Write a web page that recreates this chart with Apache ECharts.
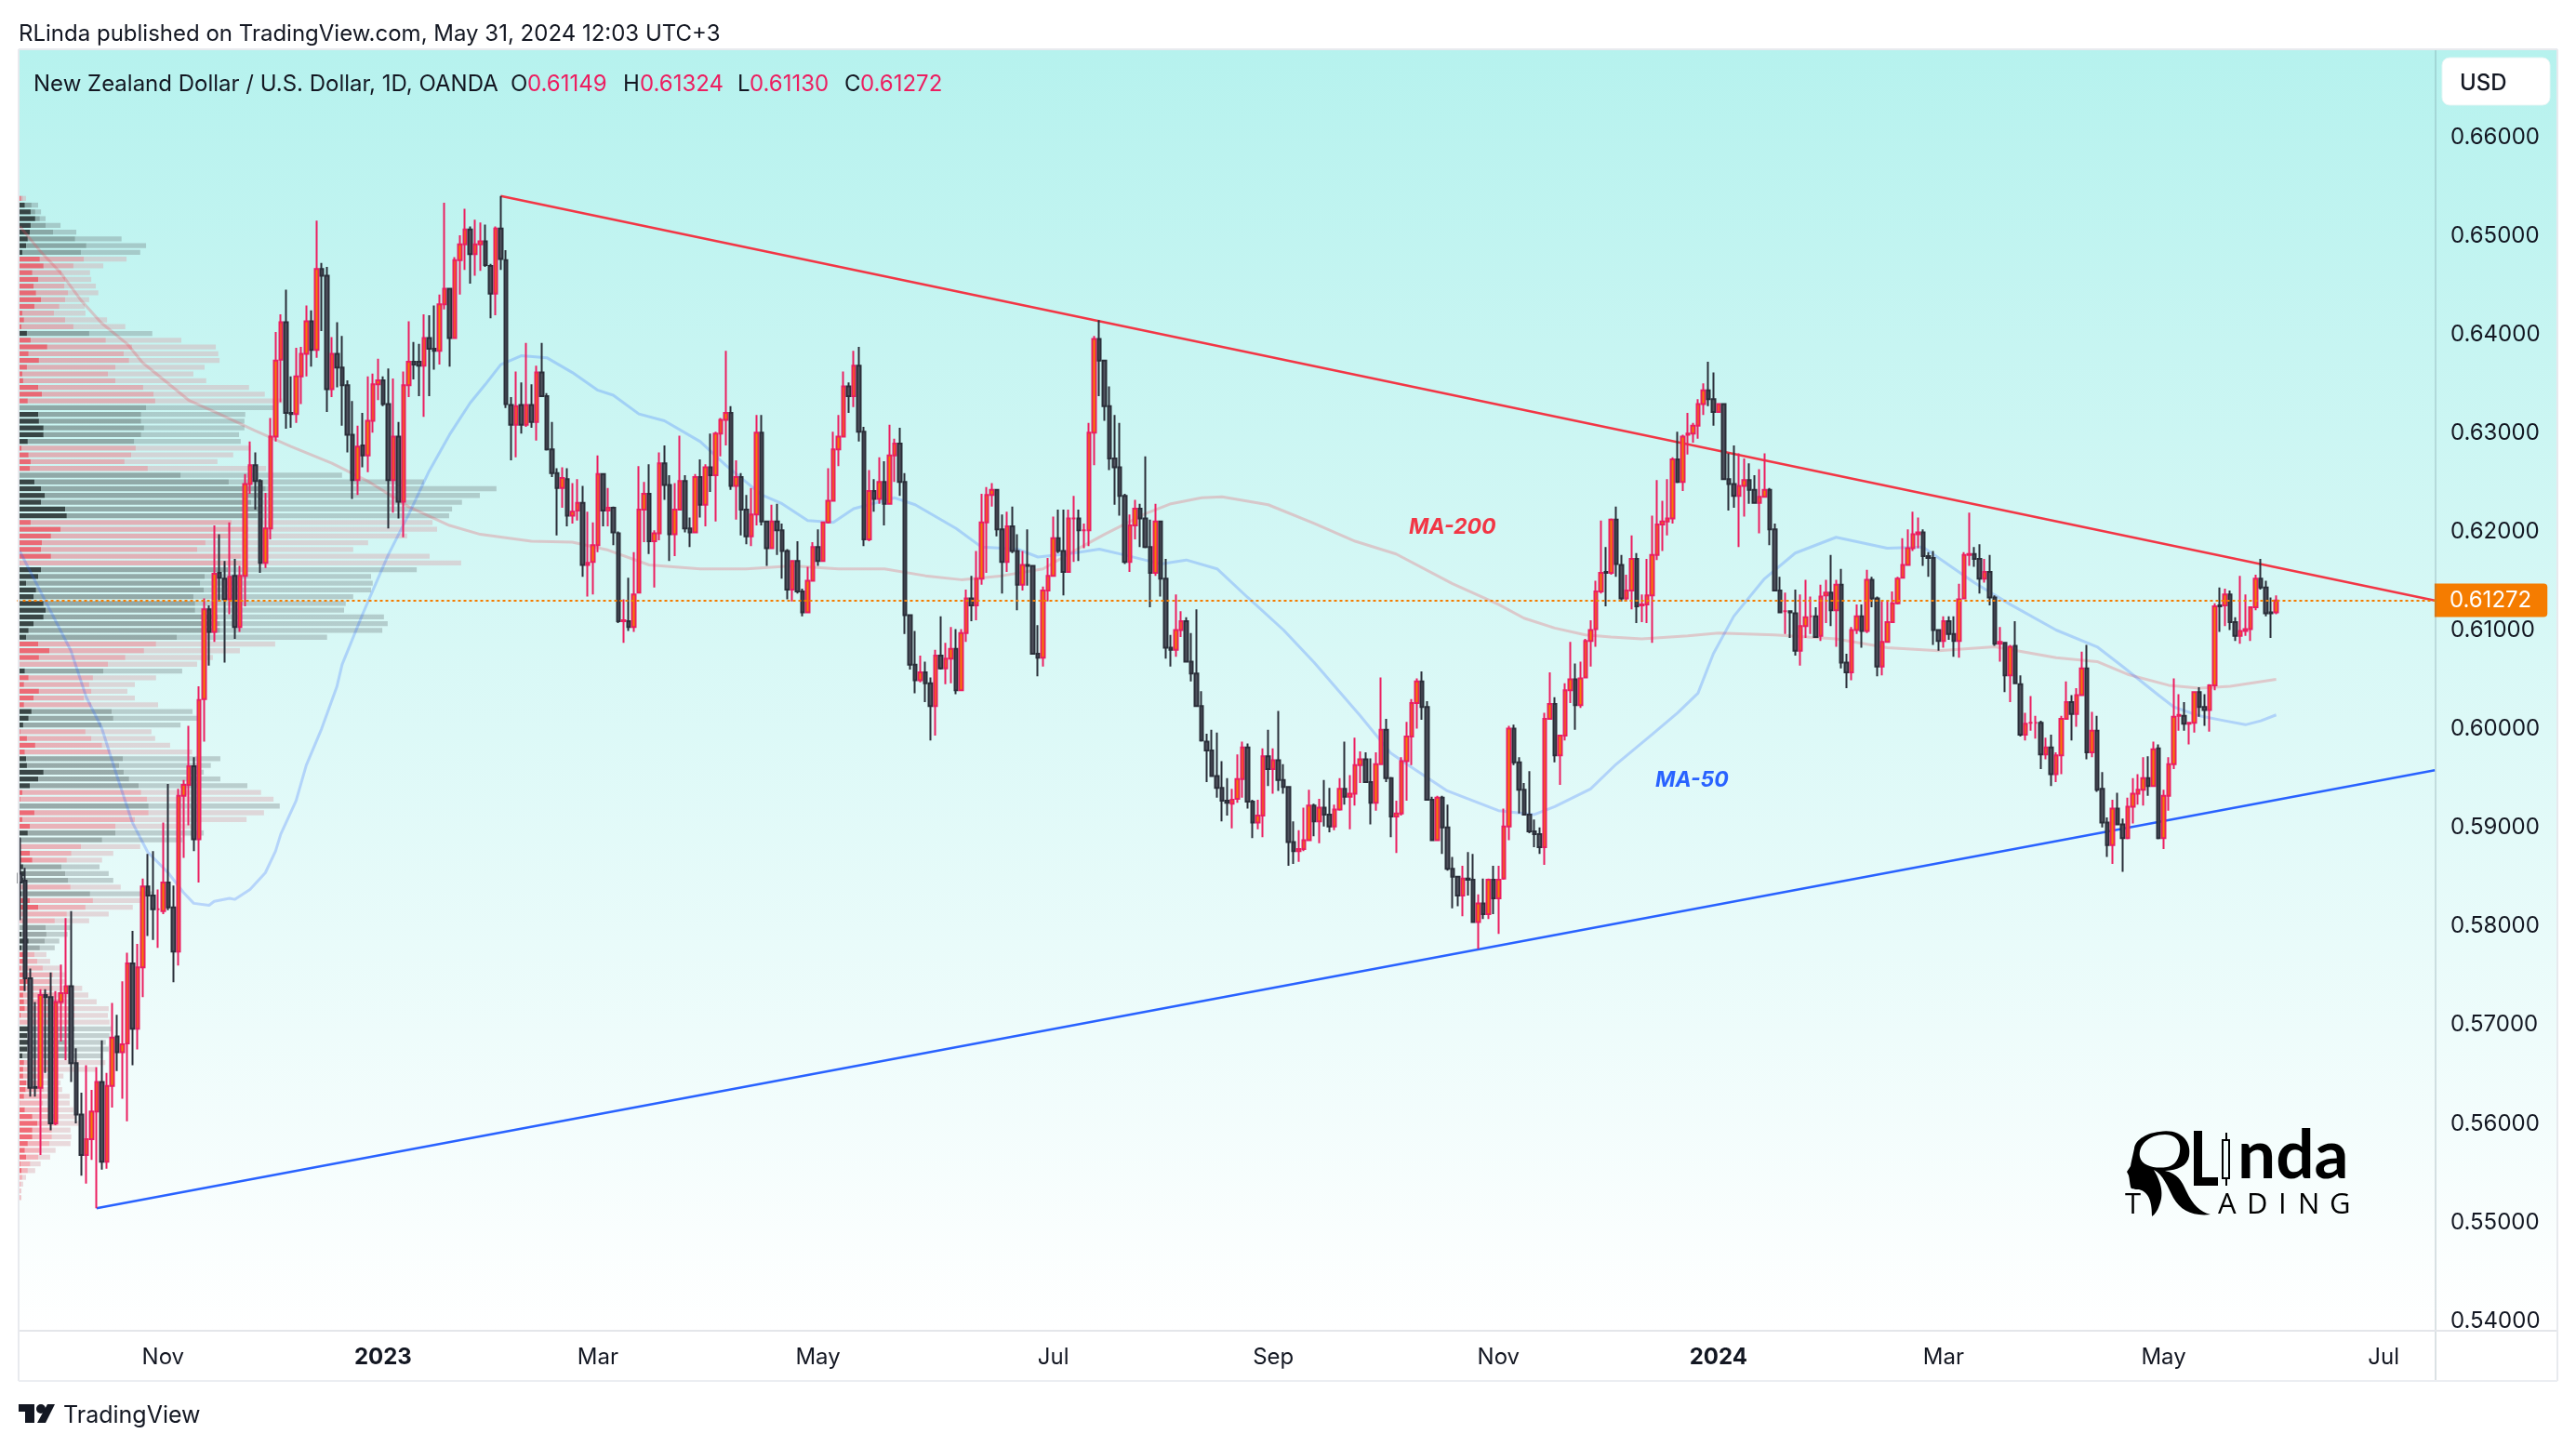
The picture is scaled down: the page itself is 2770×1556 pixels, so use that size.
<!DOCTYPE html>
<html>
<head>
<meta charset="utf-8">
<title>NZD/USD</title>
<style>
	html, body { margin: 0; padding: 0; background: #fff; }
	#chart { width: 2770px; height: 1556px; }
</style>
<script src="https://cdn.jsdelivr.net/npm/echarts@6/dist/echarts.min.js"></script>
</head>
<body>
<div id="chart"></div>
<script type="text/javascript">
// daily candles, values in 1/10000 of a dollar
var opens = [
	5850,5843,5744,5634,5633,5727,5725,5597,5720,5729,5736,5658,5606,5565,5581,5609,5639,5558,5635,5685,
	5669,5678,5759,5693,5755,5837,5828,5814,5812,5841,5816,5771,5929,5940,5959,5885,6027,6118,6095,6155,
	6149,6128,6152,6100,6152,6245,6264,6248,6165,6200,6293,6371,6409,6317,6316,6354,6377,6410,6381,6463,
	6456,6341,6377,6363,6345,6295,6249,6284,6274,6309,6346,6350,6326,6249,6293,6227,6345,6369,6369,6365,
	6393,6382,6380,6427,6443,6393,6472,6488,6503,6478,6488,6491,6466,6438,6504,6472,6325,6305,6325,6305,
	6325,6308,6358,6334,6280,6256,6241,6250,6213,6218,6226,6163,6166,6183,6255,6218,6221,6195,6106,6106,
	6100,6135,6219,6235,6187,6195,6266,6244,6194,6219,6248,6200,6196,6252,6224,6262,6254,6296,6310,6317,
	6243,6252,6219,6192,6214,6297,6207,6180,6207,6198,6177,6138,6167,6136,6115,6147,6181,6167,6206,6228,
	6280,6293,6344,6334,6365,6298,6189,6238,6230,6247,6225,6274,6286,6247,6112,6062,6046,6054,6043,6020,
	6071,6058,6068,6078,6036,6094,6129,6122,6149,6206,6234,6239,6199,6166,6202,6177,6143,6163,6162,6073,
	6069,6137,6152,6190,6177,6156,6210,6210,6198,6198,6297,
	6392,6370,6324,6271,6262,6233,6166,6203,6220,6210,6181,6155,6207,6149,6079,6077,6097,6106,6065,6053,
	6020,5984,5975,5949,5937,5924,5921,5926,5946,5978,5923,5902,5909,5969,5956,5965,5945,5938,5882,5873,
	5875,5884,5919,5903,5917,5910,5898,5915,5936,5928,5931,5960,5966,5943,5922,5961,5996,5947,5908,5911,
	5964,5989,6023,6045,6019,5925,5884,5927,5897,5855,5847,5828,5845,5844,5801,5820,5809,5844,5825,5845,
	5898,5997,5963,5935,5910,5893,5890,5877,6007,6022,5970,5990,6036,6047,6021,6049,6086,6098,6136,6156,
	6155,6209,6163,6129,6137,6169,6122,6123,6132,6173,6204,6207,6210,6270,6247,6295,6296,6304,6326,6340,
	6331,6318,6326,6250,6245,6233,6243,6249,6239,6226,6232,6239,6199,6137,6116,6116,6114,6076,6101,6111,
	6111,6091,6132,6135,6117,6143,6064,6054,6097,6111,6096,6148,6129,6060,6085,6105,6124,6150,6163,6180,
	6194,6196,6172,6170,6097,6086,6106,6093,6086,6129,6173,6174,6169,6149,6156,6130,6083,6084,6051,6081,
	6042,5991,6003,6003,6003,5971,5978,5951,5970,6007,6024,6012,6031,6058,5973,5995,5936,5902,5879,5916,
	5900,5886,5918,5931,5935,5947,5939,
	5977,5886,5929,5961,6010,6010,6002,6003,6034,6019,6016,6041,6122,6122,6133,6105,6091,6096,6098,6120,
	6149,6140,6115,6115
];
var closes = [
	5841,5744,5633,5633,5727,5725,5597,5720,5729,5736,5658,5606,5565,5581,5609,5639,5558,5635,5684,5669,
	5677,5759,5693,5755,5837,5828,5814,5814,5841,5816,5771,5929,5940,5959,5885,6026,6118,6095,6154,6150,
	6128,6151,6100,6152,6245,6264,6248,6165,6200,6293,6370,6409,6317,6316,6354,6377,6410,6381,6463,6456,
	6341,6377,6363,6345,6295,6249,6283,6274,6309,6346,6350,6326,6249,6293,6227,6345,6369,6366,6365,6393,
	6382,6380,6427,6443,6393,6472,6488,6503,6478,6488,6491,6467,6438,6504,6473,6326,6305,6324,6305,6325,
	6308,6358,6334,6280,6256,6241,6251,6213,6217,6226,6163,6165,6183,6255,6218,6221,6196,6106,6107,6100,
	6133,6219,6235,6187,6195,6266,6244,6194,6219,6248,6200,6196,6252,6224,6262,6254,6296,6310,6317,6243,
	6252,6219,6192,6214,6297,6207,6180,6207,6198,6177,6138,6167,6136,6115,6147,6181,6167,6206,6228,6280,
	6293,6344,6334,6365,6298,6189,6238,6230,6247,6225,6274,6286,6247,6112,6062,6046,6054,6043,6020,6071,
	6058,6068,6078,6036,6094,6129,6122,6149,6206,6234,6239,6199,6166,6202,6177,6143,6163,6162,6073,6069,
	6137,6152,6190,6177,6156,6210,6210,6198,6198,6297,6392,
	6370,6324,6271,6262,6233,6166,6203,6220,6210,6181,6155,6207,6149,6079,6077,6097,6106,6065,6053,6020,
	5985,5975,5949,5937,5924,5922,5925,5946,5978,5923,5902,5909,5969,5956,5965,5945,5938,5882,5873,5875,
	5884,5919,5903,5917,5910,5898,5915,5936,5928,5931,5960,5966,5943,5922,5961,5996,5947,5908,5911,5964,
	5989,6023,6045,6019,5925,5884,5927,5897,5855,5847,5828,5845,5844,5801,5820,5809,5844,5825,5844,5898,
	5997,5963,5935,5910,5893,5890,5877,6007,6022,5970,5990,6036,6047,6021,6048,6086,6097,6136,6155,6155,
	6209,6164,6129,6137,6169,6121,6123,6132,6173,6204,6207,6210,6270,6247,6293,6296,6304,6326,6340,6331,
	6318,6326,6250,6245,6233,6243,6249,6239,6226,6232,6239,6199,6137,6115,6116,6115,6076,6101,6110,6111,
	6090,6131,6135,6117,6143,6064,6054,6097,6111,6096,6148,6129,6060,6085,6105,6124,6149,6163,6180,6194,
	6196,6172,6170,6097,6086,6106,6093,6086,6128,6173,6174,6169,6149,6156,6130,6083,6085,6051,6080,6043,
	5991,6002,6003,6003,5971,5978,5951,5970,6007,6024,6012,6031,6058,5973,5995,5935,5902,5879,5916,5900,
	5886,5918,5931,5935,5947,5939,5976,
	5886,5929,5961,6009,6011,6002,6003,6034,6019,6016,6041,6121,6121,6133,6105,6091,6096,6098,6120,6149,
	6140,6114,6114,6127
];
var highs = [
	5886,5856,5754,5720,5733,5733,5750,5731,5758,5805,5812,5673,5628,5656,5631,5654,5681,5648,5719,5707,
	5741,5770,5792,5779,5845,5870,5873,5834,5902,5941,5838,5936,5945,6000,5968,6040,6129,6122,6203,6194,
	6167,6206,6169,6162,6255,6288,6277,6250,6236,6312,6399,6417,6442,6354,6383,6384,6426,6421,6512,6469,
	6465,6394,6409,6395,6350,6329,6304,6317,6354,6357,6372,6354,6362,6352,6308,6359,6410,6389,6387,6417,
	6416,6426,6437,6530,6443,6475,6497,6524,6506,6513,6510,6508,6468,6506,6537,6482,6333,6359,6348,6388,
	6346,6365,6388,6337,6308,6261,6262,6261,6246,6250,6243,6217,6206,6274,6256,6241,6222,6197,6128,6150,
	6176,6263,6247,6265,6198,6277,6284,6254,6246,6294,6254,6211,6255,6270,6265,6296,6298,6312,6380,6324,
	6269,6256,6234,6241,6315,6315,6208,6224,6225,6205,6179,6167,6187,6139,6161,6186,6199,6207,6261,6298,
	6315,6359,6348,6380,6384,6303,6259,6250,6272,6268,6305,6291,6302,6256,6112,6096,6071,6065,6049,6077,
	6111,6084,6100,6098,6098,6138,6152,6177,6235,6242,6246,6240,6214,6217,6222,6194,6177,6199,6163,6102,
	6141,6170,6212,6219,6219,6219,6233,6219,6205,6307,6395,
	6411,6371,6344,6315,6307,6235,6214,6229,6225,6273,6209,6225,6208,6169,6092,6133,6116,6110,6094,6118,
	6035,5992,5996,5993,5964,5947,5936,5971,5984,5982,5925,5925,5977,5996,5977,6015,5961,5939,5903,5894,
	5917,5935,5921,5926,5945,5937,5920,5947,5984,5950,5988,5974,5973,5967,5973,6049,6007,5948,5924,5968,
	6004,6027,6048,6055,6025,5928,5929,5929,5920,5867,5848,5858,5872,5870,5829,5845,5845,5858,5858,5916,
	6000,6001,5968,5942,5954,5905,5897,6013,6054,6029,5990,6043,6085,6063,6065,6088,6107,6147,6208,6181,
	6210,6222,6173,6153,6193,6175,6133,6169,6213,6249,6228,6250,6272,6298,6295,6317,6307,6331,6347,6369,
	6358,6327,6327,6276,6284,6276,6271,6266,6254,6260,6276,6241,6205,6151,6135,6117,6138,6133,6148,6131,
	6120,6143,6148,6173,6148,6159,6073,6100,6123,6123,6158,6151,6131,6126,6127,6136,6151,6190,6199,6217,
	6211,6199,6176,6177,6098,6111,6111,6111,6144,6176,6216,6181,6184,6169,6173,6132,6100,6085,6082,6106,
	6051,6013,6030,6010,6005,5988,5991,5973,6010,6045,6031,6038,6075,6082,6014,6010,5953,5907,5925,5932,
	5906,5927,5947,5951,5968,5969,5984,
	5981,5935,5968,6048,6032,6024,6004,6035,6039,6032,6042,6124,6140,6139,6137,6110,6152,6133,6121,6153,
	6169,6147,6130,6132
];
var lows = [
	5803,5731,5624,5624,5565,5648,5590,5595,5680,5661,5639,5597,5544,5536,5560,5511,5550,5551,5613,5650,
	5622,5599,5656,5672,5725,5787,5783,5775,5809,5813,5740,5757,5866,5899,5873,5841,5984,6061,6085,6126,
	6064,6113,6088,6095,6121,6235,6219,6155,6160,6189,6288,6328,6301,6302,6307,6326,6354,6364,6373,6400,
	6318,6333,6343,6304,6277,6230,6234,6262,6257,6297,6330,6324,6200,6216,6210,6191,6333,6351,6334,6313,
	6334,6361,6366,6422,6364,6392,6437,6462,6448,6456,6461,6465,6413,6416,6462,6322,6269,6272,6296,6303,
	6302,6289,6334,6279,6252,6193,6221,6202,6205,6208,6151,6131,6133,6176,6202,6202,6183,6104,6084,6096,
	6095,6134,6186,6174,6140,6188,6229,6167,6172,6219,6196,6181,6195,6211,6202,6237,6207,6273,6284,6239,
	6209,6193,6184,6182,6203,6203,6162,6179,6173,6149,6128,6126,6134,6111,6114,6147,6162,6166,6205,6227,
	6263,6292,6317,6323,6288,6182,6187,6217,6225,6203,6224,6247,6233,6093,6057,6033,6044,6024,5985,5990,
	6057,6042,6043,6032,6035,6085,6106,6107,6143,6155,6222,6192,6134,6156,6175,6117,6137,6142,6072,6050,
	6060,6126,6151,6175,6132,6155,6166,6167,6180,6182,6264,
	6334,6309,6259,6224,6213,6164,6156,6189,6181,6180,6120,6152,6131,6068,6060,6070,6090,6064,6045,6020,
	5984,5943,5949,5927,5903,5909,5896,5922,5927,5916,5886,5895,5887,5939,5931,5934,5931,5858,5860,5862,
	5873,5883,5888,5881,5898,5892,5894,5914,5920,5895,5919,5942,5942,5900,5914,5960,5943,5887,5871,5909,
	5924,5960,5997,6006,5924,5884,5884,5870,5853,5815,5817,5807,5828,5801,5774,5804,5804,5809,5789,5844,
	5884,5960,5911,5909,5891,5877,5870,5859,6007,5963,5940,5985,6023,5996,6018,6048,6060,6080,6134,6121,
	6153,6151,6126,6126,6118,6104,6105,6104,6084,6168,6177,6193,6205,6246,6238,6275,6287,6291,6315,6324,
	6304,6317,6249,6218,6221,6181,6212,6225,6225,6195,6233,6183,6136,6114,6093,6089,6071,6061,6089,6093,
	6089,6086,6104,6101,6080,6058,6038,6046,6093,6079,6094,6120,6050,6051,6084,6104,6123,6149,6162,6177,
	6180,6162,6151,6082,6076,6079,6087,6070,6069,6128,6162,6161,6134,6145,6122,6081,6065,6034,6024,6042,
	5989,5985,5995,5987,5956,5966,5939,5943,5951,6006,5985,5999,6030,5966,5968,5933,5897,5867,5860,5899,
	5852,5885,5901,5920,5919,5929,5938,
	5885,5875,5914,5956,5995,5995,5981,5993,6009,6000,5994,6036,6095,6101,6097,6086,6083,6091,6086,6117,
	6138,6111,6089,6113
];

// moving averages at knots: bar index and price (1/10000)
var ma50Bars = [0,10,13,16,19,22,25,29,32,34,37,38,41,42,45,48,50,51,54,56,59,62,63,67,72,76,80,84,88,91,94,98,103,108,113,116,121,126,133,138,145,149,154,159,163,171,175,183,188,195,199,206,211,216,223,228,234,240,247,253,262,268,272,279,289,296,300,307,312,319,324,328,331,335,341,347,355,365,372,377,382,389,398,406,411,418,421,426,431,435,438,441];
var ma50Vals = [6177,6076,6029,5998,5949,5902,5872,5851,5831,5820,5818,5822,5825,5824,5834,5851,5873,5890,5924,5960,5997,6040,6062,6113,6173,6214,6258,6295,6327,6346,6366,6375,6373,6358,6340,6335,6316,6309,6288,6264,6234,6225,6208,6206,6220,6231,6224,6200,6181,6179,6171,6175,6179,6173,6164,6168,6159,6130,6097,6064,6010,5972,5958,5934,5914,5910,5918,5936,5961,5991,6013,6033,6073,6111,6149,6175,6191,6180,6181,6163,6145,6123,6097,6080,6060,6031,6019,6010,6005,6001,6005,6011];
var ma200Bars = [0,1,4,8,12,16,21,24,29,33,39,46,53,61,68,76,84,90,100,108,115,123,133,142,151,160,169,177,184,192,200,206,212,220,225,231,235,244,253,261,269,280,289,294,300,306,311,317,326,332,343,355,365,375,386,398,406,412,420,426,432,441];
var ma200Vals = [6506,6500,6481,6459,6431,6408,6387,6368,6347,6330,6316,6299,6283,6266,6248,6222,6203,6194,6187,6186,6178,6163,6159,6159,6162,6159,6159,6152,6148,6152,6159,6177,6194,6215,6225,6231,6232,6224,6205,6187,6174,6144,6123,6109,6099,6092,6090,6088,6091,6094,6092,6088,6079,6076,6080,6069,6065,6052,6041,6038,6040,6047];

// trend lines: [bar index, price]
var resistanceLine = [[94, 0.6537], [472, 0.6127]];
var supportLine = [[15, 0.5511], [472, 0.5955]];
var lastPrice = 0.61272;

// volume profile rows top to bottom, bar ends of the three layers
var vpAxisMin = 45;
var vpType = 'P GGGGGGGG PPPPPPPPPPP G PPPPPPPPPP GGGGGG PPPP GGGGGGG PPPPPPP GGGGGGGGGGG PP PP G PPPPP GGG PPPP GGGGG PP G PPP GG PPP GGG P G PPPP GGGG PPPPPPPPPPP GGGGG PPPPPPPPPPPPPPPPPPPPP G'.replace(/ /g, '').split('');
var vpInner = [
	50,60,74,85,74,72,67,63,54,96,105,78,92,81,87,99,83,54,58,52,
	65,74,114,69,94,65,54,56,92,101,67,46,92,94,105,105,67,52,69,74,
	72,46,83,99,108,99,157,161,74,146,123,101,99,123,48,99,92,63,87,81,
	105,110,105,81,69,63,92,119,
	94,46,60,69,58,94,81,58,76,69,56,49,65,85,60,63,65,105,92,72,
	54,49,47,83,54,72,67,50,48,72,78,56,60,56,50,52,72,92,50,46,
	46,52,69,52,56,56,50,65,78,60,56,58,60,50,46,70,66,70,66,54,
	58,56,56,63,62,58,48,60,78,90,78,78,67,60,63,49,52,48,47,46,46,45
];
var vpMid = [
	55,76,85,96,110,128,181,208,195,202,177,148,157,155,164,157,143,130,157,177,
	215,255,318,298,311,278,260,278,345,370,374,352,340,340,347,340,323,327,316,300,
	356,435,551,640,630,605,622,620,558,598,550,495,475,580,580,550,493,482,491,466,
	470,470,525,530,530,426,376,347,
	302,260,249,224,215,220,202,220,269,273,244,206,220,246,265,296,287,298,311,334,
	340,354,358,358,325,278,278,246,195,172,161,148,157,164,170,217,224,206,161,132,
	110,112,108,96,83,90,103,128,123,127,133,154,180,180,172,180,172,160,163,158,
	140,140,105,105,106,115,104,120,130,140,125,125,119,96,92,73,67,54,50,49,50,45
];
var vpOuter = [
	63,92,99,110,146,184,293,352,338,305,249,217,220,231,237,215,204,206,258,302,
	367,437,520,526,529,493,466,497,600,638,680,660,591,589,589,576,580,605,562,524,
	641,824,1021,1196,1156,1113,1089,1082,1042,1053,981,887,851,1035,1111,1004,894,898,894,851,
	833,829,925,934,921,788,663,578,
	513,475,439,376,325,307,325,381,464,478,435,365,374,410,463,531,508,491,531,596,
	629,659,674,636,594,463,491,440,338,273,246,240,262,273,291,370,338,320,262,215,
	170,163,143,132,112,121,148,160,160,198,213,233,262,260,264,268,264,255,262,248,
	254,230,153,146,150,168,168,177,183,190,170,172,170,134,121,98,85,63,56,52,52,46
];

// axes
var priceTicks = [0.54,0.55,0.56,0.57,0.58,0.59,0.60,0.61,0.62,0.63,0.64,0.65,0.66];
var timeTickBars = [28,71,113,156,202,245,289,332,376,419,462];
var timeTickLabels = ['Nov','2023','Mar','May','Jul','Sep','Nov','2024','Mar','May','Jul'];
var barSlots = 473;

var FONT = 'Inter';
var INK = '#131722';

// footer and logo outlines
echarts.graphic.registerShape('tvLogo', echarts.graphic.extendPath('M20 1510H37V1530H27V1518H20ZM51 1510H59L49 1530H40Z', {}));
echarts.graphic.registerShape('rlindaHead', echarts.graphic.extendPath('M2322 1217C2345 1213 2357 1228 2354 1243C2352 1254 2342 1258 2328 1259C2342 1262 2346 1270 2351 1281C2358 1296 2366 1303 2377 1306C2358 1308 2345 1302 2337 1288C2331 1276 2326 1263 2316 1258C2322 1268 2328 1282 2322 1296C2320 1302 2317 1306 2314 1308C2314 1295 2312 1282 2300 1279C2296 1279 2291 1279 2291 1276C2290 1272 2290 1268 2289 1264L2287 1260L2291 1254C2292 1248 2294 1240 2295 1235C2296 1225 2310 1218 2322 1217ZM2328 1220C2310 1220 2299 1232 2301 1244C2303 1254 2318 1257 2330 1255C2342 1253 2345 1240 2344 1232C2343 1224 2336 1220 2328 1220Z', {}));

function slots() {
	var a = [];
	for (var i = 0; i < barSlots; i++) a.push(String(i));
	return a;
}
function pairs(bars, vals) {
	return bars.map(function(b, i){ return [b, vals[i] / 10000]; });
}
function candles() {
	return opens.map(function(o, i){
		return [o / 10000, closes[i] / 10000, lows[i] / 10000, highs[i] / 10000];
	});
}
function vpColor(layer) {
	var colors = {
		P: ['rgba(240,70,85,0.8)', 'rgba(240,108,122,0.5)', 'rgba(217,162,170,0.4)'],
		G: ['rgba(40,50,50,0.9)', 'rgba(82,91,91,0.5)', 'rgba(108,117,120,0.33)']
	};
	return function(p){ return colors[vpType[p.dataIndex]][layer]; };
}
function vpSeries(layer, values) {
	return {
		type: 'bar', xAxisIndex: 1, yAxisIndex: 1, stack: 'vp', z: 1,
		barCategoryGap: '27%', silent: true,
		itemStyle: { color: vpColor(layer) },
		data: values
	};
}
function diff(a, b) {
	return a.map(function(v, i){ return v - b[i]; });
}
function txt(x, y, s, fill, size, extra) {
	var style = { x: x, y: y, text: s, fill: fill, font: (extra || '') + ' ' + size + 'px ' + FONT, textVerticalAlign: 'middle' };
	return { type: 'text', z: 20, silent: true, style: style };
}
function logoLetter(x, s) {
	return { type: 'text', z: 20, silent: true, style: { x: x, y: 1296, text: s, fill: '#000', font: '31px "Open Sans"', textVerticalAlign: 'middle' } };
}
function border(x1, y1, x2, y2, color, w) {
	return { type: 'line', z: 15, silent: true, shape: { x1: x1, y1: y1, x2: x2, y2: y2 }, style: { stroke: color, lineWidth: w } };
}

var graphics = [
	// pane background
	{ type: 'rect', z: -10, silent: true, shape: { x: 20, y: 53, width: 2730, height: 1378 },
		style: { fill: new echarts.graphic.LinearGradient(0, 0, 0, 1, [{ offset: 0, color: '#b6f2ee' }, { offset: 1, color: '#ffffff' }]) } },
	border(2619, 53, 2619, 1485, 'rgba(90,120,130,0.22)', 2),
	border(20, 1431, 2750, 1431, '#e4e6ea', 2),
	border(20, 53, 2750, 53, '#e8eaee', 2),
	border(20, 53, 20, 1485, '#e8eaee', 2),
	border(2750, 53, 2750, 1485, '#e8eaee', 2),
	border(20, 1485, 2750, 1485, '#eceef2', 2),
	// currency button
	{ type: 'rect', z: 16, silent: true, shape: { x: 2626, y: 62, width: 116, height: 51, r: 8 }, style: { fill: '#ffffff', stroke: '#e8f6f5', lineWidth: 1 } },
	txt(2645, 90, 'USD', INK, 24, '500'),
	// header
	txt(20, 37, 'RLinda published on TradingView.com, May 31, 2024 12:03 UTC+3', INK, 24),
	txt(36, 91, 'New Zealand Dollar / U.S. Dollar, 1D, OANDA', INK, 24),
	txt(549, 91, 'O', INK, 24), txt(567, 91, '0.61149', '#ec1e60', 24),
	txt(670, 91, 'H', INK, 24), txt(688, 91, '0.61324', '#ec1e60', 24),
	txt(793, 91, 'L', INK, 24), txt(806, 91, '0.61130', '#ec1e60', 24),
	txt(908, 91, 'C', INK, 24), txt(925, 91, '0.61272', '#ec1e60', 24),
	// annotations
	txt(1515, 567, 'MA-200', '#f23645', 23, 'italic 700'),
	txt(1780, 839, 'MA-50', '#2962ff', 23, 'italic 700'),
	// TradingView footer
	{ type: 'tvLogo', z: 20, silent: true, shape: {}, style: { fill: INK } },
	{ type: 'circle', z: 20, silent: true, shape: { cx: 44, cy: 1515, r: 5 }, style: { fill: INK } },
	txt(68, 1522, 'TradingView', INK, 25),
	// RLinda mark
	{ type: 'rlindaHead', z: 20, silent: true, shape: {}, style: { fill: '#000' } },
	{ type: 'rect', z: 20, silent: true, shape: { x: 2359, y: 1216, width: 9, height: 59 }, style: { fill: '#000' } },
	{ type: 'rect', z: 20, silent: true, shape: { x: 2359, y: 1266, width: 26, height: 9 }, style: { fill: '#000' } },
	{ type: 'rect', z: 20, silent: true, shape: { x: 2393, y: 1218, width: 2, height: 57 }, style: { fill: '#000' } },
	{ type: 'rect', z: 20, silent: true, shape: { x: 2390, y: 1226, width: 7, height: 41 }, style: { fill: '#f2fdfc', stroke: '#000', lineWidth: 2 } },
	{ type: 'text', z: 20, silent: true, style: { x: 2406, y: 1280, text: 'nda', fill: '#000', font: '700 73px Lato', textVerticalAlign: 'bottom' } },
	logoLetter(2285, 'T'), logoLetter(2385, 'A'), logoLetter(2416, 'D'),
	logoLetter(2450, 'I'), logoLetter(2471, 'N'), logoLetter(2505, 'G')
];

var option = {
	animation: false,
	backgroundColor: '#ffffff',
	textStyle: { fontFamily: FONT },
	graphic: { elements: graphics },
	grid: [
		{ left: 18.5, top: 53, width: 2602.4, height: 1378 },
		{ left: 20, top: 209.7, width: 2600, height: 1089 }
	],
	xAxis: [
		{
			type: 'category', gridIndex: 0, data: slots(), boundaryGap: true,
			axisLine: { show: false }, axisTick: { show: false }, splitLine: { show: false },
			axisLabel: {
				margin: 17, fontSize: 24, color: INK, fontFamily: FONT, hideOverlap: false,
				interval: function(i){ return timeTickBars.indexOf(i) >= 0; },
				formatter: function(v, i){
					var s = timeTickLabels[timeTickBars.indexOf(i)];
					return /^\d+$/.test(s) ? '{year|' + s + '}' : s;
				},
				rich: { year: { fontSize: 24, fontWeight: 700, color: INK, fontFamily: FONT } }
			}
		},
		{ type: 'value', gridIndex: 1, min: vpAxisMin, max: vpAxisMin + 5824, show: false, splitLine: { show: false } }
	],
	yAxis: [
		{
			type: 'value', gridIndex: 0, position: 'right', scale: true,
			min: 0.53868, max: 0.66856,
			axisLine: { show: false }, axisTick: { show: false }, splitLine: { show: false },
			axisLabel: {
				margin: 14, fontSize: 24, color: INK, fontFamily: FONT, customValues: priceTicks,
				verticalAlign: 'top', lineHeight: 7,
				formatter: function(v){ return v.toFixed(5); }
			}
		},
		{ type: 'category', gridIndex: 1, inverse: true, show: false, data: vpType.map(function(t, i){ return String(i); }) }
	],
	series: [
		vpSeries(0, vpInner),
		vpSeries(1, diff(vpMid, vpInner)),
		vpSeries(2, diff(vpOuter, vpMid)),
		{
			type: 'line', z: 2, data: pairs(ma200Bars, ma200Vals), showSymbol: false, silent: true,
			lineStyle: { color: 'rgba(235,80,95,0.28)', width: 3 }
		},
		{
			type: 'line', z: 2, data: pairs(ma50Bars, ma50Vals), showSymbol: false, silent: true,
			lineStyle: { color: 'rgba(41,98,255,0.25)', width: 3 }
		},
		{
			type: 'line', z: 3, data: resistanceLine, showSymbol: false, silent: true,
			lineStyle: { color: '#f23645', width: 2.5 }
		},
		{
			type: 'line', z: 3, data: supportLine, showSymbol: false, silent: true,
			lineStyle: { color: '#2962ff', width: 2.5 }
		},
		{
			type: 'candlestick', z: 4, data: candles(), barWidth: 4, silent: true, progressive: 0,
			itemStyle: {
				color: '#f57c00', color0: '#50535e',
				borderColor: '#ec1e60', borderColor0: '#2a2e39', borderWidth: 2
			},
			markLine: {
				symbol: 'none', silent: true, animation: false, precision: 5,
				data: [{ yAxis: lastPrice }],
				lineStyle: { color: '#f57c00', type: [3, 3], width: 2 },
				label: {
					position: 'end', distance: -3,
					formatter: lastPrice.toFixed(5),
					color: '#ffffff', fontSize: 24, fontFamily: FONT,
					backgroundColor: '#f57c00', borderRadius: [0, 4, 4, 0],
					padding: [6, 17, 6, 16]
				}
			}
		}
	]
};

var myChart = echarts.init(document.getElementById('chart'));
myChart.setOption(option);
</script>
</body>
</html>
